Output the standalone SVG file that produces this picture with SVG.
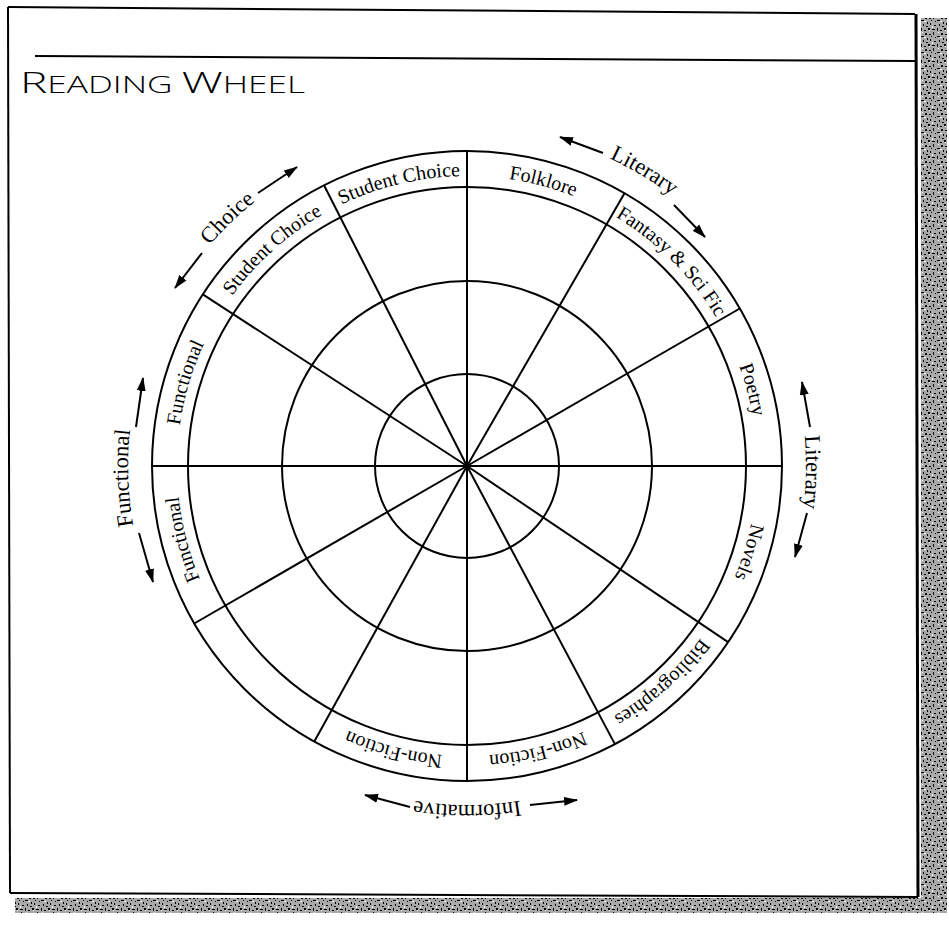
<svg xmlns="http://www.w3.org/2000/svg" width="949" height="951" viewBox="0 0 949 951">
<style>
.ring{fill:none;stroke:#000;stroke-width:2}
.spoke{stroke:#000;stroke-width:2;fill:none}
.lbl{font-family:"Liberation Serif","Times New Roman",serif;font-size:20px;fill:#000}
.out{font-family:"Liberation Serif","Times New Roman",serif;font-size:22.5px;fill:#000}
.arr{stroke:#000;stroke-width:2;fill:none;marker-end:url(#ah)}
.frame{stroke:#000;fill:none}
</style>
<defs>
<marker id="ah" markerUnits="userSpaceOnUse" markerWidth="14" markerHeight="10" refX="13" refY="5" orient="auto">
<path d="M0,0.5 L14,5 L0,9.5 z" fill="#000"/>
</marker>
<pattern id="noise" width="16" height="16" patternUnits="userSpaceOnUse">
<rect width="16" height="16" fill="#a8a8a8"/>
<rect x="1" y="2" width="2" height="1" fill="#000"/>
<rect x="5" y="0" width="1" height="3" fill="#000"/>
<rect x="9" y="4" width="3" height="1" fill="#000"/>
<rect x="13" y="1" width="2" height="2" fill="#000"/>
<rect x="2" y="7" width="1" height="2" fill="#000"/>
<rect x="6" y="9" width="2" height="1" fill="#000"/>
<rect x="11" y="8" width="1" height="2" fill="#000"/>
<rect x="14" y="10" width="2" height="1" fill="#000"/>
<rect x="0" y="12" width="2" height="2" fill="#000"/>
<rect x="4" y="13" width="3" height="1" fill="#000"/>
<rect x="9" y="12" width="1" height="3" fill="#000"/>
<rect x="12" y="14" width="2" height="1" fill="#000"/>
<rect x="7" y="5" width="1" height="1" fill="#000"/>
<rect x="3" y="4" width="1" height="1" fill="#000"/>
<rect x="15" y="6" width="1" height="2" fill="#000"/>
<rect x="10" y="0" width="1" height="1" fill="#fff"/>
<rect x="4" y="10" width="1" height="2" fill="#fff"/>
<rect x="12" y="5" width="2" height="1" fill="#fff"/>
<rect x="1" y="14" width="1" height="1" fill="#fff"/>
</pattern>
<path id="p1" d="M207.5,336.6 A290,290 0 0 1 639.5,232.9"/>
<path id="p2" d="M300.7,228.4 A290,290 0 0 1 729.8,343.4"/>
<path id="p3" d="M441.7,177.1 A290,290 0 0 1 755.9,491.3"/>
<path id="p4" d="M589.6,203.2 A290,290 0 0 1 704.6,632.3"/>
<path id="p5" d="M710.2,308.1 A290,290 0 0 1 580.3,732.9"/>
<path id="p6" d="M756.8,455.9 A290,290 0 0 1 426.6,753.2"/>
<path id="p7" d="M727.7,593.1 A290,290 0 0 1 296.5,700.6"/>
<path id="p8" d="M635.4,702.1 A290,290 0 0 1 205.2,590.8"/>
<path id="p9" d="M342.2,727.8 A290,290 0 0 1 230.9,297.6"/>
<path id="p10" d="M225.2,626.1 A290,290 0 0 1 351.4,200.0"/>
<path id="p11" d="M177.2,476.1 A290,290 0 0 1 507.4,178.8"/>
<path id="oA" d="M356.6,145.5 A339,339 0 0 1 801.8,412.9"/>
<path id="oB" d="M689.4,210.2 A339,339 0 0 1 680.3,729.4"/>
<path id="oC" d="M726.7,683.9 A339,339 0 0 1 207.3,683.9"/>
<path id="oD" d="M258.3,733.1 A339,339 0 0 1 240.2,214.1"/>
<path id="oE" d="M128.8,489.6 A339,339 0 0 1 502.4,128.9"/>
</defs>
<rect width="949" height="951" fill="#fff"/>
<g id="page-frame">
<rect x="921" y="18" width="26" height="895" fill="url(#noise)"/>
<rect x="15" y="898" width="932" height="15" fill="url(#noise)"/>
<line class="frame" x1="8" y1="7" x2="915" y2="14" stroke-width="2"/>
<line class="frame" x1="8" y1="7" x2="10" y2="893" stroke-width="2"/>
<line class="frame" x1="10" y1="893" x2="918" y2="897" stroke-width="2"/>
<line class="frame" x1="916" y1="14" x2="918" y2="897" stroke-width="3"/>
<line class="frame" x1="35" y1="56" x2="915" y2="61" stroke-width="2"/>
</g>
<g id="title">
<text x="20" y="93" font-family="'Open Sans','Liberation Sans',sans-serif" font-weight="300" font-size="23" textLength="285" lengthAdjust="spacingAndGlyphs"><tspan font-size="30">R</tspan>EADING <tspan font-size="30">W</tspan>HEEL</text>
</g>
<g id="wheel">
<circle class="ring" cx="467" cy="466" r="315" stroke-width="2.3"/>
<circle class="ring" cx="467" cy="466" r="279"/>
<circle class="ring" cx="467" cy="466" r="185"/>
<circle class="ring" cx="467" cy="466" r="92"/>
</g>
<g id="spokes">
<line class="spoke" x1="467" y1="466" x2="467" y2="151"/>
<line class="spoke" x1="467" y1="466" x2="624.5" y2="193.2"/>
<line class="spoke" x1="467" y1="466" x2="739.8" y2="308.5"/>
<line class="spoke" x1="467" y1="466" x2="782" y2="466"/>
<line class="spoke" x1="467" y1="466" x2="728.1" y2="642.1"/>
<line class="spoke" x1="467" y1="466" x2="614.9" y2="744.1"/>
<line class="spoke" x1="467" y1="466" x2="467" y2="781"/>
<line class="spoke" x1="467" y1="466" x2="314.3" y2="741.5"/>
<line class="spoke" x1="467" y1="466" x2="194.2" y2="623.5"/>
<line class="spoke" x1="467" y1="466" x2="152" y2="466"/>
<line class="spoke" x1="467" y1="466" x2="202.8" y2="294.4"/>
<line class="spoke" x1="467" y1="466" x2="324" y2="185.3"/>
</g>
<g id="band-labels">
<text class="lbl" text-anchor="middle"><textPath href="#p1" startOffset="50%">Student Choice</textPath></text>
<text class="lbl" text-anchor="middle"><textPath href="#p2" startOffset="50%">Folklore</textPath></text>
<text class="lbl" text-anchor="middle"><textPath href="#p3" startOffset="50%">Fantasy &amp; Sci Fic</textPath></text>
<text class="lbl" text-anchor="middle"><textPath href="#p4" startOffset="50%">Poetry</textPath></text>
<text class="lbl" text-anchor="middle"><textPath href="#p5" startOffset="50%">Novels</textPath></text>
<text class="lbl" text-anchor="middle"><textPath href="#p6" startOffset="50%">Bibliographies</textPath></text>
<text class="lbl" text-anchor="middle"><textPath href="#p7" startOffset="50%">Non-Fiction</textPath></text>
<text class="lbl" text-anchor="middle"><textPath href="#p8" startOffset="50%">Non-Fiction</textPath></text>
<text class="lbl" text-anchor="middle"><textPath href="#p9" startOffset="50%">Functional</textPath></text>
<text class="lbl" text-anchor="middle"><textPath href="#p10" startOffset="50%">Functional</textPath></text>
<text class="lbl" text-anchor="middle"><textPath href="#p11" startOffset="50%">Student Choice</textPath></text>
</g>
<g id="group-labels">
<text class="out" text-anchor="middle"><textPath href="#oA" startOffset="50%">Literary</textPath></text>
<text class="out" text-anchor="middle"><textPath href="#oB" startOffset="50%">Literary</textPath></text>
<text class="out" text-anchor="middle"><textPath href="#oC" startOffset="50%">Informative</textPath></text>
<text class="out" text-anchor="middle"><textPath href="#oD" startOffset="50%">Functional</textPath></text>
<text class="out" text-anchor="middle"><textPath href="#oE" startOffset="50%">Choice</textPath></text>
</g>
<g id="arrows">
<line class="arr" x1="603" y1="153" x2="560" y2="137"/>
<line class="arr" x1="674" y1="205" x2="705" y2="237"/>
<line class="arr" x1="810" y1="427" x2="802" y2="382"/>
<line class="arr" x1="807" y1="513" x2="795" y2="557"/>
<line class="arr" x1="410" y1="807" x2="365" y2="795"/>
<line class="arr" x1="530" y1="805" x2="577" y2="800"/>
<line class="arr" x1="136" y1="427" x2="143" y2="378"/>
<line class="arr" x1="139" y1="533" x2="153" y2="582"/>
<line class="arr" x1="258" y1="193" x2="297" y2="167"/>
<line class="arr" x1="202" y1="253" x2="175" y2="288"/>
</g>
</svg>
